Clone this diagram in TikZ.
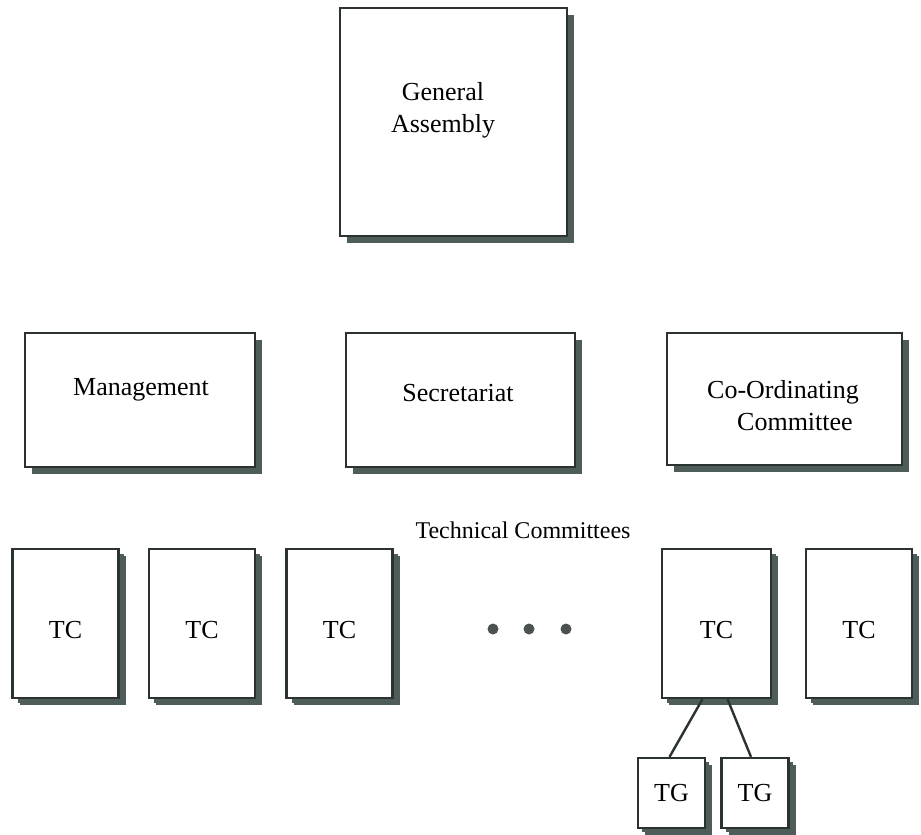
\documentclass[tikz,border=0pt]{standalone}
\usepackage{fontspec}
\setmainfont{Liberation Serif}
\usetikzlibrary{shadows}
\definecolor{boxline}{HTML}{2B3331}
\definecolor{shadowgray}{HTML}{4E5C5A}
\begin{document}
\begin{tikzpicture}[
    x=1pt, y=1pt,
    orgbox/.style={rectangle, draw=boxline, line width=2.2pt, fill=white, inner sep=0pt,
      drop shadow={shadow xshift=7pt, shadow yshift=-7pt, fill=shadowgray, opacity=1}},
    tcbox/.style={orgbox, minimum width=106pt, minimum height=149pt,
      drop shadow={shadow xshift=5pt, shadow yshift=-5pt, fill=shadowgray, opacity=1}},
    tgbox/.style={orgbox, minimum width=67pt, minimum height=70pt,
      drop shadow={shadow xshift=4pt, shadow yshift=-4pt, fill=shadowgray, opacity=1}},
    lbl/.style={font=\fontsize{26}{32}\selectfont, inner sep=0pt, align=center},
    dot/.style={circle, fill=boxline!85, inner sep=0pt, minimum size=11pt}
  ]
    \useasboundingbox (0,0) rectangle (921,-835);
    % top: general assembly
    \node[orgbox, minimum width=227pt, minimum height=228pt] (ga) at (453.5,-122) {};
    \node[lbl] (ga-lbl) at (443,-110) {General\\Assembly};
    % middle row
    \node[orgbox, minimum width=230pt, minimum height=134pt] (mgmt) at (140,-400) {};
    \node[orgbox, minimum width=229pt, minimum height=134pt] (secr) at (460.5,-400) {};
    \node[orgbox, minimum width=235pt, minimum height=132pt] (coord) at (784.5,-399) {};
    \node[lbl] (mgmt-lbl) at (141,-390) {Management};
    \node[lbl] (secr-lbl) at (458,-393) {Secretariat};
    \node[lbl, align=left] (coord-lbl) at (783,-406) {Co-Ordinating\\\hspace*{30pt}Committee};
    % technical committees
    \node[lbl, font=\fontsize{24}{29}\selectfont] (tc-title) at (523,-530) {Technical Committees};
    \node[tcbox] (tc1) at (65.5,-623.5) {};
    \node[tcbox] (tc2) at (202,-623.5) {};
    \node[tcbox] (tc3) at (339.5,-623.5) {};
    \node[tcbox, minimum width=109pt] (tc4) at (716.5,-623.5) {};
    \node[tcbox] (tc5) at (859,-623.5) {};
    \foreach \t in {tc1,tc2,tc3,tc4,tc5} {
      \node[lbl] (\t-lbl) at ([yshift=-7pt]\t.center) {TC};
    }
    \node[dot] (d1) at (493,-629) {};
    \node[dot] (d2) at (529,-629) {};
    \node[dot] (d3) at (566,-629) {};
    % task groups under one TC
    \node[tgbox] (tg1) at (671.5,-793) {};
    \node[tgbox] (tg2) at (755,-793) {};
    \node[lbl] (tg1-lbl) at (tg1.center) {TG};
    \node[lbl] (tg2-lbl) at (tg2.center) {TG};
    \draw[boxline, line width=2.4pt] ([xshift=-14pt]tc4.south) -- ([xshift=-2pt]tg1.north);
    \draw[boxline, line width=2.4pt] ([xshift=11pt]tc4.south) -- ([xshift=-4pt]tg2.north);
\end{tikzpicture}
\end{document}
